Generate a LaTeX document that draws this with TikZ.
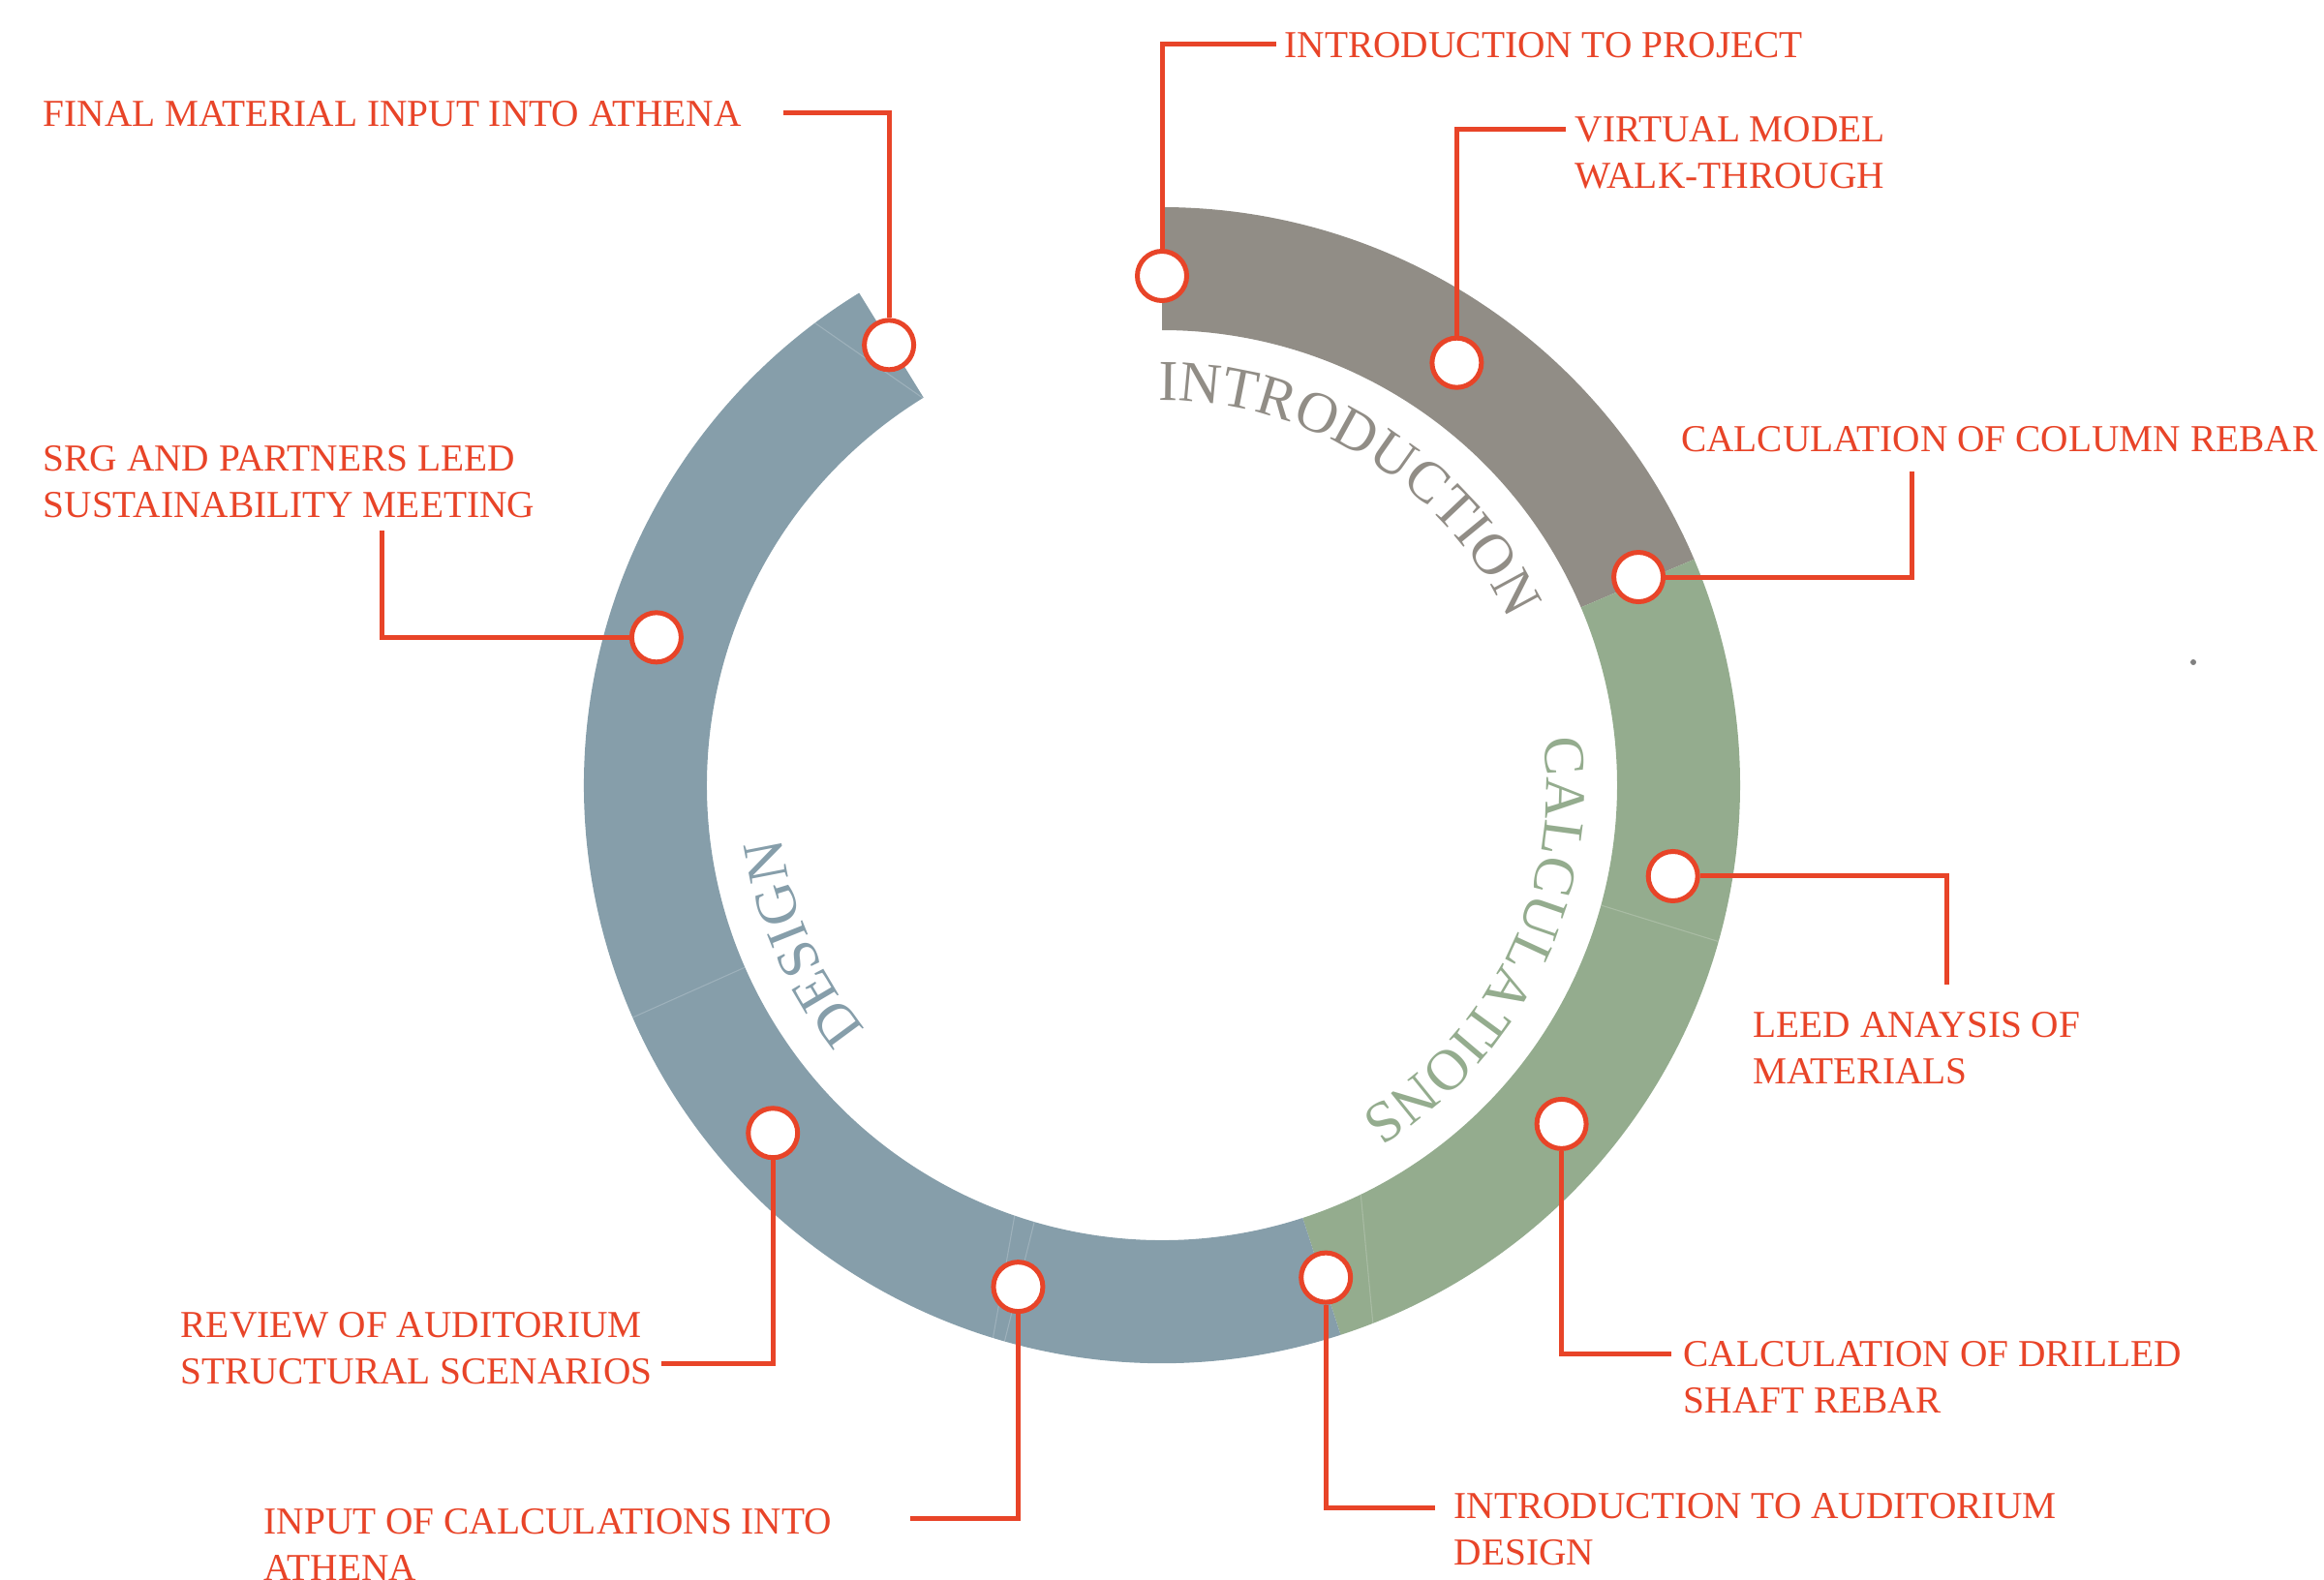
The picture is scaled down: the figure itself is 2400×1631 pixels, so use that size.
\documentclass[tikz,border=0pt]{standalone}
\usepackage{fontspec}
\setmainfont{Liberation Serif}
\usetikzlibrary{calc, decorations.text}
\definecolor{introgray}{RGB}{145, 141, 134}
\definecolor{calcgreen}{RGB}{148, 172, 142}
\definecolor{designblue}{RGB}{134, 158, 170}
\definecolor{linkred}{RGB}{232, 68, 40}

\begin{document}
\begin{tikzpicture}[
    x=0.1mm, y=0.1mm,
    marker/.style={circle, draw=linkred, fill=white, line width=0.5mm, minimum size=5.1mm, inner sep=0pt},
    link/.style={draw=linkred, line width=0.5mm},
    note/.style={anchor=north west, inner sep=0pt, align=left, text=linkred, font=\fontsize{11.2}{13.66}\selectfont},
    seam/.style={white, opacity=0.2, line width=0.3pt},
    ringlabel/.style={decorate, decoration={text along path, text align=center, text={#1}}}
]
\useasboundingbox (0,0) rectangle (2400,1631);

\coordinate (c) at (1200,820);

% Ring segments
\fill[introgray] ($(c)+(90:597)$) arc[start angle=90, end angle=23, radius=597]
    -- ($(c)+(23:470)$) arc[start angle=23, end angle=90, radius=470] -- cycle;
\fill[calcgreen] ($(c)+(23:597)$) arc[start angle=23, end angle=-72, radius=597]
    -- ($(c)+(-72:470)$) arc[start angle=-72, end angle=23, radius=470] -- cycle;
\fill[designblue] ($(c)+(-72:597)$) arc[start angle=-72, end angle=-238.4, radius=597]
    -- ($(c)+(121.6:470)$) arc[start angle=-238.4, end angle=-72, radius=470] -- cycle;

% Seams between steps
\draw[seam] ($(c)+(-15.3:470)$) -- ($(c)+(-15.7:597)$);
\draw[seam] ($(c)+(-64.1:470)$) -- ($(c)+(-68.6:597)$);
\draw[seam] ($(c)+(203.6:470)$) -- ($(c)+(203.7:597)$);
\draw[seam] ($(c)+(251.1:470)$) -- ($(c)+(253:597)$);
\draw[seam] ($(c)+(253.7:470)$) -- ($(c)+(254.2:597)$);
\draw[seam] ($(c)+(121.7:470)$) -- ($(c)+(126.9:597)$);

% Phase names
\path[ringlabel={|\fontsize{17}{20}\selectfont\color{introgray}|INTRODUCTION}]
    ($(c)+(103:397)$) arc[start angle=103, end angle=13, radius=397];
\path[ringlabel={|\fontsize{17}{20}\selectfont\color{calcgreen}|CALCULATIONS}]
    ($(c)+(19:397)$) arc[start angle=19, end angle=-71, radius=397];
\path[ringlabel={|\fontsize{17}{20}\selectfont\color{designblue}|DESIGN}]
    ($(c)+(243.7:397)$) arc[start angle=243.7, end angle=163.7, radius=397];

% Markers
\node[marker] (m1) at ($(c)+(90:526)$) {};
\node[marker] (m2) at ($(c)+(55.1:532)$) {};
\node[marker] (m3) at ($(c)+(23.6:537)$) {};
\node[marker] (m4) at ($(c)+(-10.1:536)$) {};
\node[marker] (m5) at ($(c)+(-40.3:541)$) {};
\node[marker] (m6) at ($(c)+(-71.6:536)$) {};
\node[marker] (m7) at ($(c)+(-106:539)$) {};
\node[marker] (m8) at ($(c)+(221.8:539)$) {};
\node[marker] (m9) at ($(c)+(163.7:544)$) {};
\node[marker] (m10) at ($(c)+(121.8:535)$) {};

% Connector ends
\coordinate (e1) at (1318,1585);
\coordinate (e2) at (1617,1497);
\coordinate (e3) at (1974,1144);
\coordinate (e4) at (2010,614);
\coordinate (e5) at (1726,233);
\coordinate (e6) at (1482,74);
\coordinate (e7) at (940,63);
\coordinate (e8) at (683,223);
\coordinate (e9) at (394,1083);
\coordinate (e10) at (809,1514);

% Connectors
\draw[link] (m1) |- (e1);
\draw[link] (m2) |- (e2);
\draw[link] (m3) -| (e3);
\draw[link] (m4) -| (e4);
\draw[link] (m5) |- (e5);
\draw[link] (m6) |- (e6);
\draw[link] (m7) |- (e7);
\draw[link] (m8) |- (e8);
\draw[link] (m9) -| (e9);
\draw[link] (m10) |- (e10);

% Step labels
\node[note] (t1) at (1326,1598) {INTRODUCTION TO PROJECT};
\node[note] (t2) at (1626,1511) {VIRTUAL MODEL\\WALK-THROUGH};
\node[note, anchor=north east] (t3) at (2394,1191) {CALCULATION OF COLUMN REBAR};
\node[note] (t4) at (1810,586) {LEED ANAYSIS OF\\MATERIALS};
\node[note] (t5) at (1738,246) {CALCULATION OF DRILLED\\SHAFT REBAR};
\node[note] (t6) at (1501,89) {INTRODUCTION TO AUDITORIUM\\DESIGN};
\node[note] (t7) at (272,73) {INPUT OF CALCULATIONS INTO\\ATHENA};
\node[note] (t8) at (186,276) {REVIEW OF AUDITORIUM\\STRUCTURAL SCENARIOS};
\node[note] (t9) at (44,1171) {SRG AND PARTNERS LEED\\SUSTAINABILITY MEETING};
\node[note] (t10) at (44,1527) {FINAL MATERIAL INPUT INTO ATHENA};

% Stray dot
\fill[gray] (2265,947) circle (3);

\end{tikzpicture}
\end{document}
